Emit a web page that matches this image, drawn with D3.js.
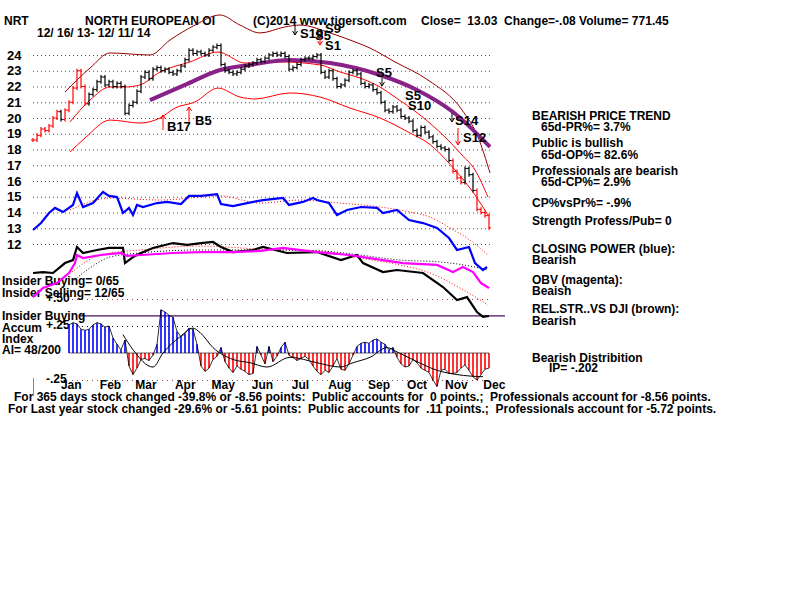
<!DOCTYPE html>
<html><head><meta charset="utf-8">
<script src="https://cdn.jsdelivr.net/npm/d3@7"></script>
<style>
body{margin:0;background:#fff;}
svg{display:block;}
text{font-family:"Liberation Sans",Arial,sans-serif;font-weight:bold;font-size:12px;fill:#000;white-space:pre;}
</style></head><body>
<svg id="c" width="800" height="600"></svg>
<script>
// ---------- DATA ----------
const startDate = "2013-12-16", endDate = "2014-12-11";
const priceTicks = [12,13,14,15,16,17,18,19,20,21,22,23,24];
const monthLabels = ["Jan","Feb","Mar","Apr","May","Jun","Jul","Aug","Sep","Oct","Nov","Dec"];
const closes = [18.6,18.9,19.3,19.2,19.5,20.0,20.4,19.9,20.5,21.0,
 21.9,23.0,22.0,20.9,21.5,21.8,22.3,22.6,22.1,22.3,
 22.0,22.2,22.0,20.3,20.8,21.0,21.7,22.6,22.9,22.5,
 23.1,23.2,23.0,23.1,22.9,22.8,23.0,23.3,23.7,24.3,
 24.1,24.2,24.1,24.0,24.3,24.5,24.6,23.4,23.0,22.9,
 22.8,22.9,23.1,23.3,23.4,23.5,23.7,23.6,23.8,24.0,
 24.1,24.0,24.1,23.9,23.1,23.2,23.4,23.7,23.8,23.8,
 23.9,24.0,22.9,22.6,23.0,22.5,22.0,22.1,22.4,22.9,
 23.0,22.8,22.2,22.0,22.1,21.8,21.6,21.0,20.5,20.4,
 20.7,20.5,20.1,20.0,19.8,19.2,18.9,19.4,19.1,18.8,
 18.5,18.2,18.1,18.0,17.3,16.6,16.2,15.9,16.8,16.4,
 15.4,14.2,14.0,13.8,13.03];
const redBars = [0,1,2,3,4,5,6,8,9,10,11,12,13,105,106,107,111,112,113,114];
// bands [barIndex, price]
const bandOuter = [[8,21.65],[14.25,23.17],[19.25,24.13],[29.25,24.0],[34.25,24.95],[40.5,25.9],[46.75,26.54],[51.75,25.9],[56.75,25.4],[63,25.78],[66.75,25.9],[74.25,25.4],[79.25,24.95],[84.25,24.44],[90.5,23.56],[98.75,22.41],[107.25,20.51],[111.25,18.79],[114.25,16.51]];
const bandMid = [[9.25,19.75],[14.25,21.14],[19.25,21.97],[23,21.97],[26.75,22.10],[31.75,22.92],[39.25,23.56],[46.25,24.19],[53,23.49],[61.75,23.56],[71.75,23.37],[76.75,22.92],[81.75,22.54],[86.75,21.97],[90.5,21.33],[96.75,20.19],[103,18.79],[107.25,17.65],[110.5,16.70],[113.75,14.98]];
const bandLower = [[9.25,17.84],[13,18.73],[19.25,19.87],[26.75,19.68],[31.75,20.0],[35.5,20.63],[40.5,21.02],[46.25,21.9],[51.75,21.33],[55.5,21.21],[64.25,21.59],[71.75,21.33],[79.25,20.63],[86.75,20.0],[94.25,19.05],[98.75,18.41],[105.5,16.7],[110.5,15.11],[113.75,13.84]];
const ma65 = [[29.25,21.14],[38,22.1],[46.75,23.05],[54.25,23.37],[64.25,23.68],[74.25,23.49],[86.75,22.73],[96,21.78],[105,20.38],[114.25,18.16]];
// indicators (plotted in price-axis units)
const closingPower = [[0,12.89],[2,13.33],[4,13.97],[5.5,14.29],[7.5,14.03],[10,14.48],[11,15.24],[12.5,14.35],[15,14.6],[17.5,15.3],[19,15.05],[21,14.98],[22.5,13.97],[24,14.29],[25,13.84],[26,14.48],[27.5,14.35],[31,14.6],[33.5,14.67],[37,14.54],[39,15.05],[42,15.05],[46,15.17],[47,14.54],[50,14.41],[53.5,14.6],[57.5,14.79],[62.5,14.92],[64,14.48],[67.5,14.67],[70,14.92],[71,14.79],[74,14.6],[76,13.84],[78.5,14.16],[82,14.35],[86,14.29],[87.5,13.97],[91,14.16],[94,13.52],[97.5,13.33],[101,13.02],[104,12.38],[106,11.62],[109,11.81],[110.5,10.79],[112.5,10.35],[113.5,10.54]];
const closingPowerMA = [[9.25,14.16],[19.25,14.92],[31.75,14.79],[46.75,15.05],[56.75,14.6],[66.75,14.79],[76.75,14.6],[86.75,14.35],[94.25,14.03],[99.25,13.71],[104.25,13.02],[109.25,12.25],[113.75,11.3]];
const relStrength = [[0,10.16],[2.5,10.22],[5,10.16],[8,10.79],[10,10.98],[11,11.81],[12.5,11.43],[16,11.62],[19,11.75],[22.5,11.75],[23,10.79],[25,11.17],[27,11.43],[30,11.75],[35,12.06],[38.5,11.94],[42,12.06],[45,12.13],[47,11.81],[50,11.49],[55,11.62],[57.5,11.81],[63.5,11.43],[71,11.49],[77,10.98],[81,11.3],[82.5,10.79],[87.5,10.22],[91,10.35],[97.5,10.16],[102.5,9.27],[106,8.44],[108.5,8.63],[111,7.68],[112.5,7.37],[114,7.43]];
const relStrengthMA = [[9.75,10.22],[16.75,11.3],[26.75,11.62],[41.75,11.87],[56.75,11.68],[71.75,11.56],[81.75,11.11],[91.75,10.67],[99.25,10.16],[106.75,9.21],[113.75,8.13]];
const obv = [[0,8.63],[2.5,9.21],[6,9.52],[9,10.16],[10.5,10.79],[11,11.3],[12.5,11.11],[17,11.3],[22,11.43],[23.5,11.24],[27,11.3],[35,11.43],[42,11.49],[50,11.49],[57,11.56],[62.5,11.75],[71,11.49],[79,11.3],[87.5,10.98],[92.5,10.79],[101,10.67],[105,10.22],[107.5,10.54],[110,10.22],[112,9.52],[114,9.21]];
const obvMA = [[9.75,9.59],[14.25,10.48],[19.25,11.17],[26.75,11.43],[41.75,11.62],[56.75,11.62],[71.75,11.56],[81.75,11.3],[91.75,10.98],[101.75,10.86],[109.25,10.6],[113.75,10.35]];
// Accumulation index
const aiStart = 9;
const aiValues = [0.26,0.28,0.27,0.22,0.21,0.22,0.26,0.28,0.27,0.24,
 0.25,0.14,0.08,0.03,0.12,-0.12,-0.2,-0.14,-0.06,-0.05,
 -0.07,-0.02,0.08,0.4,0.38,0.35,0.33,0.2,0.15,0.18,
 0.23,0.22,0.08,-0.12,-0.17,-0.14,-0.06,-0.03,0.05,-0.08,
 -0.14,-0.18,-0.12,-0.15,-0.17,-0.2,-0.19,0.06,-0.02,-0.1,
 0.06,-0.08,-0.03,0.05,0.1,-0.02,-0.04,-0.07,-0.05,-0.03,
 -0.06,-0.12,-0.17,-0.2,-0.16,-0.18,-0.12,-0.05,-0.15,-0.16,
 -0.1,-0.02,0.06,0.09,0.1,0.09,0.12,0.13,0.1,0.08,
 0.03,0.05,-0.04,-0.1,-0.13,-0.12,-0.06,-0.09,-0.14,-0.16,
 -0.18,-0.25,-0.31,-0.16,-0.15,-0.19,-0.19,-0.18,-0.14,-0.11,
 -0.16,-0.22,-0.25,-0.2,-0.15,-0.14];
const aiMA = [[22.5,0.17],[25,0.03],[30,-0.13],[32.5,0],[36.75,0.15],[40,0.23],[41.75,0.19],[45,0.05],[50,-0.06],[54.25,-0.09],[58.5,-0.13],[64.25,-0.04],[71,-0.09],[76.75,-0.13],[80,-0.09],[84.25,-0.04],[88.5,0.05],[91,0.01],[96,-0.08],[101,-0.16],[106,-0.2],[112.5,-0.22]];
const aiLevels = [0.5, 0.25, -0.25];
const aiLevelLabels = ["+.50", "+.25", "-.25"];
const insiderLevel = 0.343;
// signals
const signals = [
 {t:"B17", i:33.5, v:19.17, a:[32.5,19.24,20.19], c:"#ff0000"},
 {t:"B5", i:40.5, v:19.56, a:[39,19.75,20.7], c:"#ff0000"},
 {t:"S19", i:66.75, v:25.08, a:[65.5,25.9,25.27], c:"#000"},
 {t:"S5", i:70.5, v:24.95, a:[71.75,25.08,24.63], c:"#ff0000"},
 {t:"S9", i:73, v:25.4, a:null},
 {t:"S1", i:73, v:24.32, a:null},
 {t:"S5", i:85.75, v:22.6, a:[87.25,22.54,22.03], c:"#000"},
 {t:"S5", i:93, v:21.14, a:null},
 {t:"S10", i:93.75, v:20.51, a:null},
 {t:"S14", i:105.5, v:19.56, a:[104.75,20.32,19.75], c:"#000"},
 {t:"S12", i:107.5, v:18.48, a:[106.25,19.37,18.29], c:"#ff0000"}
];
const header = [
 {t:"NRT", x:4, y:25},
 {t:"NORTH EUROPEAN OI", x:85, y:25},
 {t:"(C)2014 www.tigersoft.com", x:253, y:25},
 {t:"Close=  13.03  Change=-.08 Volume= 771.45", x:421, y:25},
 {t:"12/ 16/ 13- 12/ 11/ 14", x:37, y:37}
];
const sideText = [
 ["BEARISH PRICE TREND",532,120],["65d-PR%= 3.7%",541,131],
 ["Public is bullish",532,147],["65d-OP%= 82.6%",541,159],
 ["Professionals are bearish",532,175],["65d-CP%= 2.9%",541,186],
 ["CP%vsPr%= -.9%",532,207],["Strength Profess/Pub= 0",532,225],
 ["CLOSING POWER (blue):",532,253],["Bearish",532,264],
 ["OBV (magenta):",532,284],["Beaish",532,295],
 ["REL.STR..VS DJI (brown):",532,313],["Bearish",532,325],
 ["Bearish Distribition",532,362],["IP= -.202",549,372]
];
const leftText = [
 ["Insider Buying= 0/65",2,285],["Insider Selling= 12/65",2,297],
 ["Insider Buying",2,320],["Accum",2,332],["Index",2,343],["AI= 48/200",2,354]
];
const footer = [
 ["For 365 days stock changed -39.8% or -8.56 points:  Public accounts for  0 points.;  Professionals account for -8.56 points.",14,401],
 ["For Last year stock changed -29.6% or -5.61 points:  Public accounts for  .11 points.;  Professionals account for -5.72 points.",8,413]
];

// ---------- SCALES ----------
const svg = d3.select("#c");
const x = d3.scaleLinear().domain([0, closes.length-1]).range([33, 489]);
const y = d3.scaleLinear().domain([12, 24]).range([244, 55]);
const ai = d3.scaleLinear().domain([-0.25, 0.5]).range([380, 299]);
const t = d3.scaleTime().domain([new Date(startDate+"T00:00"), new Date(endDate+"T00:00")]).range([33, 489]);

// grid
svg.append("g").selectAll("line").data(priceTicks).join("line")
 .attr("x1",33).attr("x2",490).attr("y1",d=>y(d)+0.5).attr("y2",d=>y(d)+0.5)
 .attr("stroke","#008000").attr("stroke-dasharray","1,3");
svg.append("g").selectAll("text").data(priceTicks).join("text")
 .attr("x",7).attr("y",d=>y(d)).attr("dy","0.36em").style("font-size","13px").text(d=>d);

// AI level lines
const lvlColors = ["#884444","#000","#884444"];
svg.append("g").selectAll("line").data(aiLevels).join("line")
 .attr("x1",72).attr("x2",490).attr("y1",d=>ai(d)+0.5).attr("y2",d=>ai(d)+0.5)
 .attr("stroke",(d,k)=>lvlColors[k]).attr("stroke-dasharray","1,4");
svg.append("line").attr("x1",80).attr("x2",505).attr("y1",ai(insiderLevel)).attr("y2",ai(insiderLevel))
 .attr("stroke","#4a1060").attr("stroke-width",1.2);

// texts (under lines)
svg.append("g").selectAll("text").data(header).join("text").attr("x",d=>d.x).attr("y",d=>d.y).text(d=>d.t);
svg.append("g").selectAll("text").data(sideText).join("text").attr("x",d=>d[1]).attr("y",d=>d[2]).text(d=>d[0]);
svg.append("g").selectAll("text").data(leftText).join("text").attr("x",d=>d[1]).attr("y",d=>d[2]).text(d=>d[0]);
svg.append("g").selectAll("text").data(aiLevels).join("text").attr("x",46).attr("y",d=>ai(d)+3).text((d,k)=>aiLevelLabels[k]);
svg.append("g").selectAll("text").data(footer).join("text").attr("x",d=>d[1]).attr("y",d=>d[2]).text(d=>d[0]);

// month labels
const months = monthLabels.map((m,k)=>new Date(2014,k,1));
svg.append("g").selectAll("text").data(months).join("text")
 .attr("x",d=>t(d)+18).attr("y",389).attr("text-anchor","middle").text((d,k)=>monthLabels[k]);
svg.append("line").attr("x1",33.5).attr("x2",33.5).attr("y1",378).attr("y2",396).attr("stroke","#999900");

// AI histogram
const aiData = aiValues.map((v,k)=>[aiStart+k, v]);
svg.append("g").selectAll("line").data(aiData).join("line")
 .attr("x1",d=>x(d[0])).attr("x2",d=>x(d[0])).attr("y1",ai(0)).attr("y2",d=>ai(d[1]))
 .attr("stroke",d=>d[1]>=0?"#0000ff":"#ff0000").attr("stroke-width",1.6);
const lineGen = (sy)=>d3.line().x(d=>x(d[0])).y(d=>sy(d[1]));
svg.append("path").datum(aiData).attr("d",lineGen(ai)).attr("fill","none").attr("stroke","#000").attr("stroke-width",0.8);
svg.append("path").datum(aiMA).attr("d",lineGen(ai).curve(d3.curveMonotoneX)).attr("fill","none").attr("stroke","#000").attr("stroke-width",1);
svg.append("line").attr("x1",x(aiStart)).attr("x2",x(closes.length-1)).attr("y1",ai(0)).attr("y2",ai(0)).attr("stroke","#000").attr("stroke-width",0.6);

// bands
const smooth = d3.line().x(d=>x(d[0])).y(d=>y(d[1])).curve(d3.curveMonotoneX);
const straight = d3.line().x(d=>x(d[0])).y(d=>y(d[1]));
svg.append("path").attr("d",smooth(bandOuter)).attr("fill","none").attr("stroke","#990000").attr("stroke-width",1);
svg.append("path").attr("d",smooth(bandMid)).attr("fill","none").attr("stroke","#ff0000").attr("stroke-width",1);
svg.append("path").attr("d",smooth(bandLower)).attr("fill","none").attr("stroke","#ff0000").attr("stroke-width",1);

// indicator MAs (dotted)
svg.append("path").attr("d",smooth(closingPowerMA)).attr("fill","none").attr("stroke","#ff0000").attr("stroke-dasharray","1,2");
svg.append("path").attr("d",smooth(relStrengthMA)).attr("fill","none").attr("stroke","#ff0000").attr("stroke-dasharray","1,2");
svg.append("path").attr("d",smooth(obvMA)).attr("fill","none").attr("stroke","#000").attr("stroke-dasharray","1,2");

// indicators
svg.append("path").attr("d",straight(relStrength)).attr("fill","none").attr("stroke","#000").attr("stroke-width",2.2);
svg.append("path").attr("d",straight(obv)).attr("fill","none").attr("stroke","#ff00ff").attr("stroke-width",2.2);
svg.append("path").attr("d",straight(closingPower)).attr("fill","none").attr("stroke","#0000ff").attr("stroke-width",2.2);

// 65-day MA
svg.append("path").attr("d",smooth(ma65)).attr("fill","none").attr("stroke","#882288").attr("stroke-width",4);

// price bars
const bars = closes.map((c,k)=>({i:k, c, p: k>0?closes[k-1]:c, red: redBars.includes(k)}));
const bg = svg.append("g");
bg.selectAll("line.v").data(bars).join("line").attr("class","v")
 .attr("x1",d=>x(d.i)).attr("x2",d=>x(d.i))
 .attr("y1",d=>y(Math.max(d.c,d.p))-2).attr("y2",d=>y(Math.min(d.c,d.p))+2)
 .attr("stroke",d=>d.red?"#ff0000":"#000").attr("stroke-width",1.2);
bg.selectAll("line.r").data(bars).join("line").attr("class","r")
 .attr("x1",d=>x(d.i)).attr("x2",d=>x(d.i)+2).attr("y1",d=>y(d.c)).attr("y2",d=>y(d.c))
 .attr("stroke",d=>d.red?"#ff0000":"#000");
bg.selectAll("line.l").data(bars).join("line").attr("class","l")
 .attr("x1",d=>x(d.i)-2).attr("x2",d=>x(d.i)).attr("y1",d=>y(d.p)).attr("y2",d=>y(d.p))
 .attr("stroke",d=>d.red?"#ff0000":"#000");

// signals
const sg = svg.append("g");
signals.forEach(s=>{
 sg.append("text").attr("x",x(s.i)).attr("y",y(s.v)).style("font-size","13px").text(s.t);
 if(s.a){
  const ax=x(s.a[0]), y0=y(s.a[1]), y1=y(s.a[2]);
  const dir = y1>y0?-1:1;
  sg.append("path").attr("d",`M${ax},${y0}L${ax},${y1}M${ax-2.5},${y1+dir*4}L${ax},${y1}L${ax+2.5},${y1+dir*4}`)
   .attr("fill","none").attr("stroke",s.c).attr("stroke-width",1);
 }
});
</script>
</body></html>
